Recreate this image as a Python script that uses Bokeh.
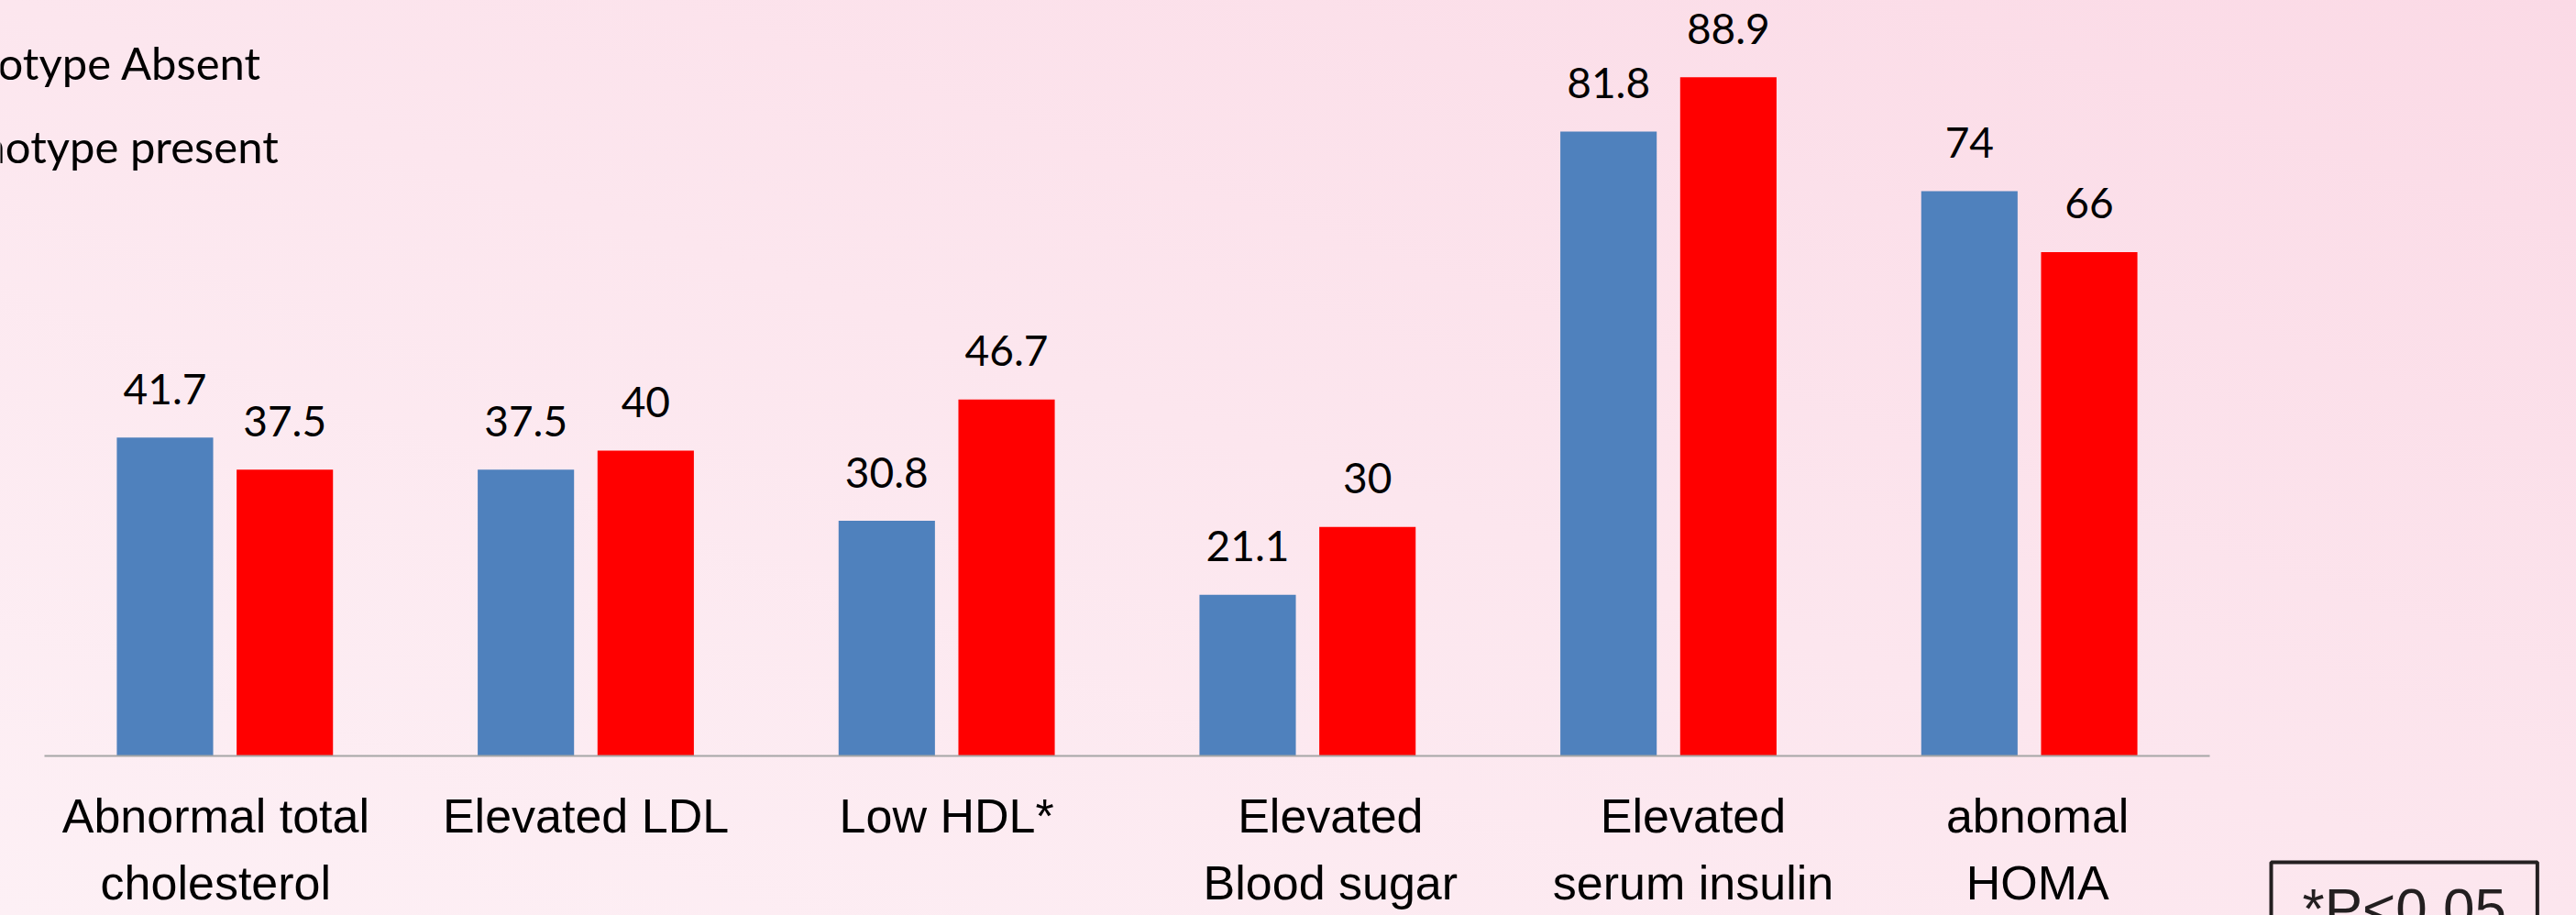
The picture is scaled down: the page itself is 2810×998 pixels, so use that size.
from bokeh.plotting import figure
from bokeh.models import Range1d, Label, ColumnDataSource
from bokeh.core.properties import value
from bokeh.embed import file_html
from bokeh.resources import INLINE

# ---- data ----
categories = ["Abnormal total\ncholesterol", "Elevated LDL", "Low HDL*",
              "Elevated\nBlood sugar", "Elevated\nserum insulin", "abnomal\nHOMA"]
absent = [41.7, 37.5, 30.8, 21.1, 81.8, 74]
present = [37.5, 40, 46.7, 30, 88.9, 66]
legend_labels = ["otype Absent", "notype present"]
note_text = "*P<0.05"

# ---- layout (category slots on a numeric axis, one unit per category) ----
BLUE = "#4F81BD"
RED = "#FF0000"
bw = 0.267
off = 0.166
px_per_cat = 2362 / len(categories)
label_nudge = [-10, 0, 0, 25, 27, 9]  # px, text-box placement in the original slide

pos = [i + 0.5 for i in range(len(categories))]
src = ColumnDataSource(dict(
    x=pos,
    xa=[x - off for x in pos],
    xp=[x + off for x in pos],
    cat=categories,
    absent=absent,
    present=present,
    absent_txt=[f"{v:g}" for v in absent],
    present_txt=[f"{v:g}" for v in present],
    nudge=label_nudge,
))

W, H = 2810, 998
p = figure(x_range=Range1d(-48 / px_per_cat, (W - 48) / px_per_cat),
           y_range=Range1d(-20.9, 98.97),
           width=W, height=H, output_backend="svg", toolbar_location=None,
           min_border=0, x_axis_location=None, y_axis_location=None)

p.background_fill_alpha = 0
p.border_fill_alpha = 0
p.outline_line_color = None
p.grid.visible = False
p.styles = {"background": "linear-gradient(to top right, #FDF0F5 0%, #FCE6EE 50%, #FBDAE6 100%)"}

p.vbar(x="xa", top="absent", bottom=0, width=bw, source=src, fill_color=BLUE, line_color=None)
p.vbar(x="xp", top="present", bottom=0, width=bw, source=src, fill_color=RED, line_color=None)

# value labels
for xcol, ycol in (("xa", "absent"), ("xp", "present")):
    p.text(x=xcol, y=ycol, text=ycol + "_txt", source=src,
           y_offset=-53, text_align="center", text_baseline="alphabetic",
           text_font=value("Lato"), text_font_size="46px", text_color="#000000")

# axis line (category axis baseline)
p.segment(x0=[0], x1=[len(categories)], y0=[0], y1=[0], line_color="#A6A6A6", line_width=2)

# category labels
p.text(x="x", y=0, text="cat", source=src, x_offset="nudge", y_offset=37,
       text_align="center", text_baseline="top", text_line_height=1.25,
       text_font=value("Liberation Sans"), text_font_size="52px", text_color="#000000")

# legend texts (swatches cropped off in the original)
p.add_layout(Label(x=-3, y=931, x_units="screen", y_units="screen", text=legend_labels[0],
                   text_font="Lato", text_font_size="49px", text_baseline="alphabetic",
                   text_color="#000000"))
p.add_layout(Label(x=-22, y=840, x_units="screen", y_units="screen", text=legend_labels[1],
                   text_font="Lato", text_font_size="49px", text_baseline="alphabetic",
                   text_color="#000000"))

# significance note box
p.add_layout(Label(x=2477, y=58, x_units="screen", y_units="screen",
                   text=note_text, text_font="Liberation Sans", text_font_size="62px",
                   text_baseline="top", text_color="#231F20",
                   border_line_color="#231F20", border_line_width=4,
                   padding=dict(left=34, right=34, top=15, bottom=20)))

open("out.html", "w").write(file_html(p, INLINE))
